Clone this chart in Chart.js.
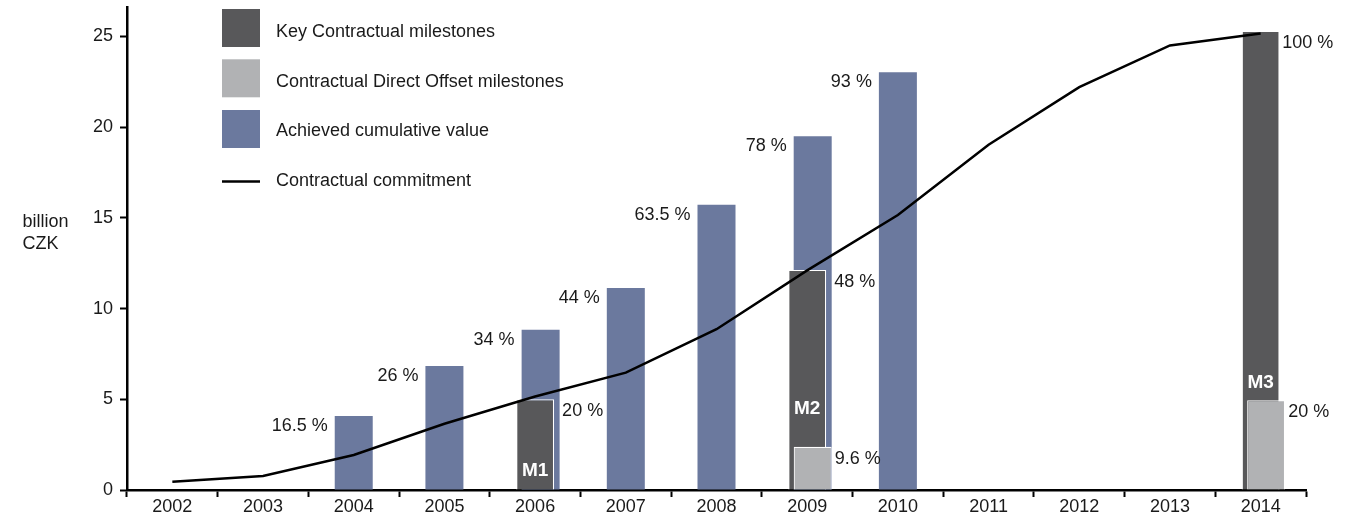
<!DOCTYPE html>
<html>
<head>
<meta charset="utf-8">
<script src="https://cdn.jsdelivr.net/npm/chart.js@4.4.1/dist/chart.umd.min.js"></script>
<style>
  html, body { margin: 0; padding: 0; background: #ffffff; }
  #wrap { position: relative; width: 1366px; height: 520px; }
  canvas { display: block; }
</style>
</head>
<body>
<div id="wrap"><canvas id="c" width="1366" height="520"></canvas></div>
<script>
// ---------- DATA ----------
const years = ['2002','2003','2004','2005','2006','2007','2008','2009','2010','2011','2012','2013','2014'];
const commitment = [0.46, 0.77, 1.93, 3.65, 5.15, 6.47, 8.86, 12.1, 15.15, 19.03, 22.2, 24.5, 25.15];
const achieved   = [null, null, 4.08, 6.84, 8.83, 11.13, 15.72, 19.49, 23.02, null, null, null, null];
const keyMilestones    = [null, null, null, null, 5.0, null, null, 12.13, null, null, null, null, 25.3];
const offsetMilestones = [null, null, null, null, null, null, null, 2.38, null, null, null, null, 4.95];
const achievedPct = [null, null, '16.5 %', '26 %', '34 %', '44 %', '63.5 %', '78 %', '93 %', null, null, null, null];
const keyPct      = [null, null, null, null, '20 %', null, null, '48 %', null, null, null, null, '100 %'];
const offsetPct   = [null, null, null, null, null, null, null, '9.6 %', null, null, null, null, '20 %'];
const keyNames    = [null, null, null, null, 'M1', null, null, 'M2', null, null, null, null, 'M3'];
const yTicks = [0, 5, 10, 15, 20, 25];
const legendLabels = ['Key Contractual milestones', 'Contractual Direct Offset milestones', 'Achieved cumulative value', 'Contractual commitment'];
const yTitle = ['billion', 'CZK'];

// ---------- STYLE ----------
const FONT = '"Liberation Sans", Arial, Helvetica, sans-serif';
const C_DARK = '#58585a', C_LIGHT = '#b1b2b4', C_BLUE = '#6b799e', C_TEXT = '#1a1a1a';
const mLift = [19, 38, 17];

function metaByKey(chart, key) {
  const i = chart.data.datasets.findIndex(d => d.key === key);
  return chart.getDatasetMeta(i);
}

const overlay = {
  id: 'overlay',
  beforeDatasetDraw(chart, args) {
    if (chart.data.datasets[args.index].key === 'light') return false;
  },
  afterDatasetsDraw(chart) {
    const meta = metaByKey(chart, 'light');
    chart.ctx.save();
    meta.controller.draw();
    chart.ctx.restore();
  },
  afterDraw(chart) {
    const ctx = chart.ctx;
    const mBlue = metaByKey(chart, 'blue'), mDark = metaByKey(chart, 'dark'), mLight = metaByKey(chart, 'light');
    const right = (el) => el.x + el.width / 2;
    ctx.save();
    ctx.font = '18px ' + FONT;
    ctx.fillStyle = C_TEXT;
    ctx.textBaseline = 'middle';
    ctx.textAlign = 'right';
    achievedPct.forEach((t, i) => {
      if (!t) return;
      const el = mBlue.data[i];
      ctx.fillText(t, el.x - el.width / 2 - 7, el.y + 10);
    });
    ctx.textAlign = 'left';
    keyPct.forEach((t, i) => {
      if (!t) return;
      const el = mDark.data[i];
      let r = right(el);
      if (achieved[i] != null) r = Math.max(r, right(mBlue.data[i]));
      ctx.fillText(t, r + 2.5, el.y + 12);
    });
    offsetPct.forEach((t, i) => {
      if (!t) return;
      const el = mLight.data[i];
      ctx.fillText(t, right(el) + 3, el.y + 12);
    });
    ctx.font = 'bold 19px ' + FONT;
    ctx.fillStyle = '#ffffff';
    ctx.textAlign = 'center';
    let k = 0;
    keyNames.forEach((t, i) => {
      if (!t) return;
      const el = mDark.data[i];
      const base = offsetMilestones[i] != null ? mLight.data[i].y : el.base;
      ctx.fillText(t, el.x, base - mLift[k]);
      k++;
    });
    ctx.font = '18px ' + FONT;
    ctx.fillStyle = C_TEXT;
    ctx.textAlign = 'left';
    ctx.textBaseline = 'alphabetic';
    ctx.fillText(yTitle[0], 22.5, 226.5);
    ctx.fillText(yTitle[1], 22.5, 248.5);
    const lx = 222, bw = 38;
    const boxes = [[9, C_DARK], [59.3, C_LIGHT], [110, C_BLUE]];
    boxes.forEach(([y, c]) => { ctx.fillStyle = c; ctx.fillRect(lx, y, bw, bw); });
    ctx.strokeStyle = '#000'; ctx.lineWidth = 2.5;
    ctx.beginPath(); ctx.moveTo(lx, 181.5); ctx.lineTo(lx + bw, 181.5); ctx.stroke();
    ctx.fillStyle = C_TEXT;
    ctx.textBaseline = 'middle';
    const ty = [32.5, 82.5, 130.8, 180.8];
    legendLabels.forEach((t, i) => ctx.fillText(t, 276, ty[i]));
    ctx.restore();
  }
};

const barCommon = {
  type: 'bar',
  categoryPercentage: 0.182,
  barPercentage: 8,
  maxBarThickness: 38,
  skipNull: true,
  borderSkipped: 'start'
};

new Chart(document.getElementById('c'), {
  type: 'bar',
  data: {
    labels: years,
    datasets: [
      { key: 'line', type: 'line', data: commitment, borderColor: '#000', borderWidth: 2.5,
        pointRadius: 0, tension: 0, fill: false, order: -2 },
      // invisible spacer so the milestone bars sit on the category centre
      Object.assign({}, barCommon, { key: 'spacer', data: keyMilestones, backgroundColor: 'rgba(0,0,0,0)',
        borderWidth: 0, stack: 'p', order: 0 }),
      Object.assign({}, barCommon, { key: 'dark', data: keyMilestones, backgroundColor: C_DARK,
        borderColor: '#ffffff', borderWidth: 1.2, stack: 'k', order: 1 }),
      Object.assign({}, barCommon, { key: 'light', data: offsetMilestones, backgroundColor: C_LIGHT,
        borderColor: '#ffffff', borderWidth: 1.2, stack: 'c', order: 2 }),
      Object.assign({}, barCommon, { key: 'blue', data: achieved, backgroundColor: C_BLUE,
        borderWidth: 0, stack: 'c', order: 3 })
    ]
  },
  options: {
    responsive: false,
    animation: false,
    devicePixelRatio: 1,
    layout: { padding: { left: 0, right: 60, top: 7.3, bottom: 0 } },
    plugins: { legend: { display: false }, tooltip: { enabled: false } },
    scales: {
      x: {
        type: 'category',
        offset: true,
        grid: { display: true, offset: true, drawOnChartArea: false, drawTicks: true,
                tickLength: 7, tickColor: '#000', tickWidth: 2 },
        border: { display: true, color: '#000', width: 2.5 },
        ticks: { color: C_TEXT, font: { family: FONT, size: 18 }, padding: -1, maxRotation: 0, autoSkip: false },
        afterFit(s) { s.height = 30; s.paddingLeft = 0; s.paddingRight = 0; }
      },
      y: {
        type: 'linear',
        stacked: false,
        min: 0,
        max: 26.6,
        grid: { display: true, drawOnChartArea: false, drawTicks: true, tickLength: 7,
                tickColor: '#000', tickWidth: 2 },
        border: { display: true, color: '#000', width: 2.5 },
        afterBuildTicks(s) { s.ticks = yTicks.map(v => ({ value: v })); },
        ticks: { color: C_TEXT, font: { family: FONT, size: 18 }, padding: 7 },
        afterFit(s) { s.width = 127; s.paddingTop = 0; s.paddingBottom = 0; }
      }
    }
  },
  plugins: [overlay]
});
</script>
</body>
</html>
